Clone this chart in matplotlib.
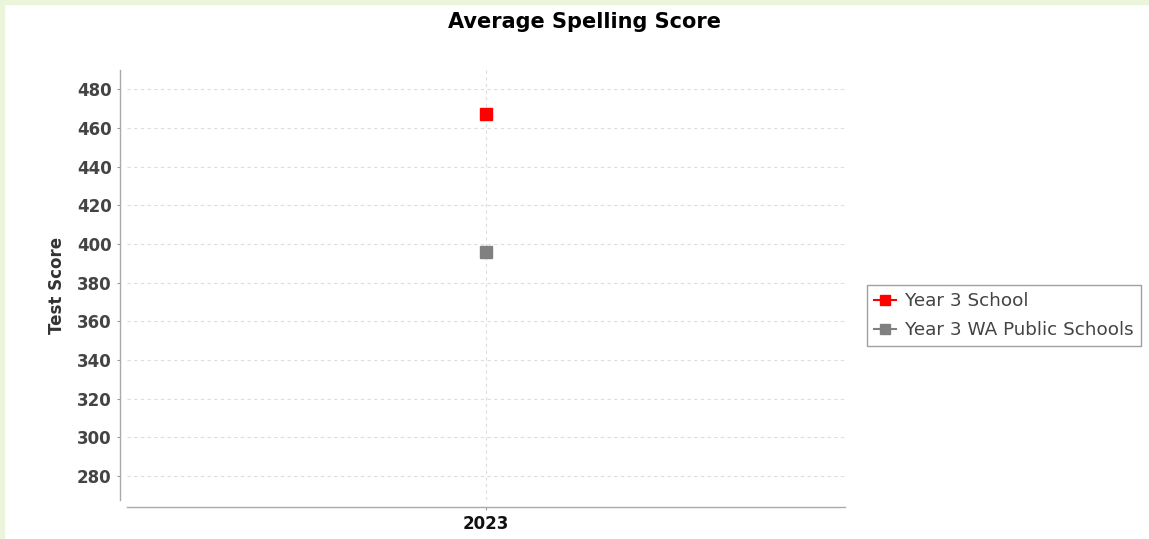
import numpy as np
import matplotlib.pyplot as plt
from matplotlib.patches import Rectangle

plt.rcParams["font.family"] = ["DejaVu Sans"]

years = ["2023"]
school = [467]
wa_public = [396]
series_names = ["Year 3 School", "Year 3 WA Public Schools"]
y_ticks = [280, 300, 320, 340, 360, 380, 400, 420, 440, 460, 480]

W, H = 1149, 539
fig = plt.figure(figsize=(W / 100, H / 100), dpi=100)
fig.patch.set_facecolor("white")

# pale green frame on the top and left edges
fig.patches.append(Rectangle((0, 0), 4 / W, 1, transform=fig.transFigure,
                             color="#eaf5dc", zorder=0))
fig.patches.append(Rectangle((0, 1 - 4 / H), 1, 4 / H, transform=fig.transFigure,
                             color="#eaf5dc", zorder=0))

ax = fig.add_axes([127 / W, 1 - 500 / H, (845 - 127) / W, (500 - 70) / H])
x = np.arange(len(years))
ax.plot(x, school, marker="s", color="#ff0000", markersize=8, linestyle="-",
        label=series_names[0], zorder=3)
ax.plot(x, wa_public, marker="s", color="#808080", markersize=8, linestyle="-",
        label=series_names[1], zorder=3)

ax.set_xlim(-0.5, 0.5)
ax.set_ylim(267.5, 490)
ax.set_xticks(x, years)
ax.set_yticks(y_ticks, [str(v) for v in y_ticks])
ax.tick_params(axis="both", length=2, width=0.8, color="#999999", pad=4, labelsize=12)

ax.grid(True, color="#dddddd", linestyle=(0, (3, 3)), linewidth=0.8)
ax.set_axisbelow(True)

for s in ["top", "right"]:
    ax.spines[s].set_visible(False)
for s in ["left", "bottom"]:
    ax.spines[s].set_position(("outward", 5))
    ax.spines[s].set_color("#aaaaaa")
    ax.spines[s].set_linewidth(1)

ax.set_ylabel("Test Score", fontsize=12, fontweight="bold", color="#333333", labelpad=8)

fig.text(585 / W, 1 - 22 / H, "Average Spelling Score", ha="center", va="center",
         fontsize=15, fontweight="bold", color="#000000")

leg = fig.legend(loc="center left", bbox_to_anchor=(867 / W, 1 - 315.5 / H),
                 prop={"size": 13.2}, frameon=True, fancybox=False, edgecolor="#888888",
                 handlelength=1.2, handletextpad=0.45, borderpad=0.4, labelspacing=0.6,
                 borderaxespad=0, markerscale=0.85)
for t in leg.get_texts():
    t.set_color("#444444")
leg.get_frame().set_linewidth(1)

fig.canvas.draw()
for tick in ax.yaxis.get_major_ticks():
    tick.label1.set_fontfamily("DejaVu Sans")
    tick.label1.set_fontweight("bold")
    tick.label1.set_color("#444444")
for tick in ax.xaxis.get_major_ticks():
    tick.label1.set_fontfamily("DejaVu Sans")
    tick.label1.set_fontweight("bold")
    tick.label1.set_color("#111111")

fig.savefig("out.png", dpi=100, facecolor=fig.get_facecolor())
